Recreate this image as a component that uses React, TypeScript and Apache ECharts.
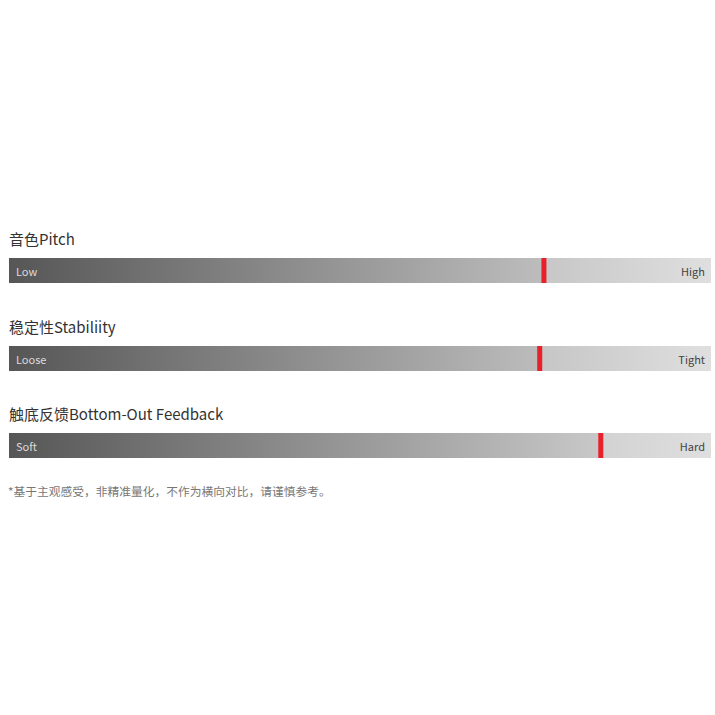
import { useEffect, useRef } from 'react';
import * as echarts from 'echarts';

const metrics = ['音色Pitch', '稳定性Stabiliity', '触底反馈Bottom-Out Feedback'];
const lowLabels = ['Low', 'Loose', 'Soft'];
const highLabels = ['High', 'Tight', 'Hard'];
const values = [76.2, 75.6, 84.3];
const note = '*基于主观感受，非精准量化，不作为横向对比，请谨慎参考。';

const BAR_TOPS = [258, 346, 433];
const BAR_H = 25;
const FONT = '"Noto Sans CJK SC", "Noto Sans", sans-serif';

const grey = (v: number) => {
  const g = Math.round(Math.max(0, Math.min(255, v)));
  return `rgb(${g},${g},${g})`;
};

export default function App() {
  const ref = useRef<HTMLDivElement>(null);

  useEffect(() => {
    document.body.style.margin = '0';
    const dom = ref.current;
    if (!dom) return;
    const chart = echarts.init(dom, null, { renderer: 'svg' });

    const grids = metrics.map((_, i) => ({
      left: 9,
      right: 4,
      top: BAR_TOPS[i],
      height: BAR_H,
    }));
    const xAxes = metrics.map((_, i) => ({
      type: 'value',
      gridIndex: i,
      min: 0,
      max: 100,
      show: false,
    }));
    const yAxes = metrics.map((m, i) => ({
      type: 'category',
      gridIndex: i,
      data: [m],
      show: false,
    }));

    const series: any[] = [];
    metrics.forEach((m, i) => {
      const v = values[i];
      const mid = 86 + 135 * (v / 100);
      series.push(
        {
          type: 'bar',
          xAxisIndex: i,
          yAxisIndex: i,
          stack: 's' + i,
          barWidth: BAR_H,
          data: [v],
          itemStyle: {
            color: new echarts.graphic.LinearGradient(0, 0, 1, 0, [
              { offset: 0, color: grey(86) },
              { offset: 1, color: grey(mid) },
            ]),
          },
          label: {
            show: true,
            position: 'insideLeft',
            distance: 7,
            formatter: lowLabels[i],
            color: '#dcdcdc',
            fontSize: 11,
            fontFamily: FONT,
          },
          silent: true,
        },
        {
          type: 'bar',
          xAxisIndex: i,
          yAxisIndex: i,
          stack: 's' + i,
          barWidth: BAR_H,
          data: [100 - v],
          itemStyle: {
            color: new echarts.graphic.LinearGradient(0, 0, 1, 0, [
              { offset: 0, color: grey(mid + 10) },
              { offset: 1, color: grey(223) },
            ]),
          },
          label: {
            show: true,
            position: 'insideRight',
            distance: 6,
            formatter: highLabels[i],
            color: '#444',
            fontSize: 11,
            fontFamily: FONT,
          },
          silent: true,
        },
        {
          type: 'scatter',
          xAxisIndex: i,
          yAxisIndex: i,
          symbol: 'rect',
          symbolSize: [5, BAR_H],
          data: [[v, m]],
          itemStyle: { color: '#e8202a', opacity: 1 },
          z: 5,
          silent: true,
        }
      );
    });

    const texts: any[] = metrics.map((m, i) => ({
      type: 'text',
      x: 9,
      y: BAR_TOPS[i] - 20,
      style: {
        text: m,
        fill: '#333',
        font: `15px ${FONT}`,
        verticalAlign: 'middle',
        align: 'left',
      },
    }));
    texts.push({
      type: 'text',
      x: 8,
      y: 490,
      style: {
        text: note,
        fill: '#777',
        font: `11.75px ${FONT}`,
        verticalAlign: 'middle',
        align: 'left',
      },
    });

    chart.setOption({
      animation: false,
      backgroundColor: '#fff',
      grid: grids,
      xAxis: xAxes,
      yAxis: yAxes,
      series,
      graphic: texts,
    } as echarts.EChartsOption);

    return () => {
      chart.dispose();
    };
  }, []);

  return <div ref={ref} style={{ width: 715, height: 715 }} />;
}
